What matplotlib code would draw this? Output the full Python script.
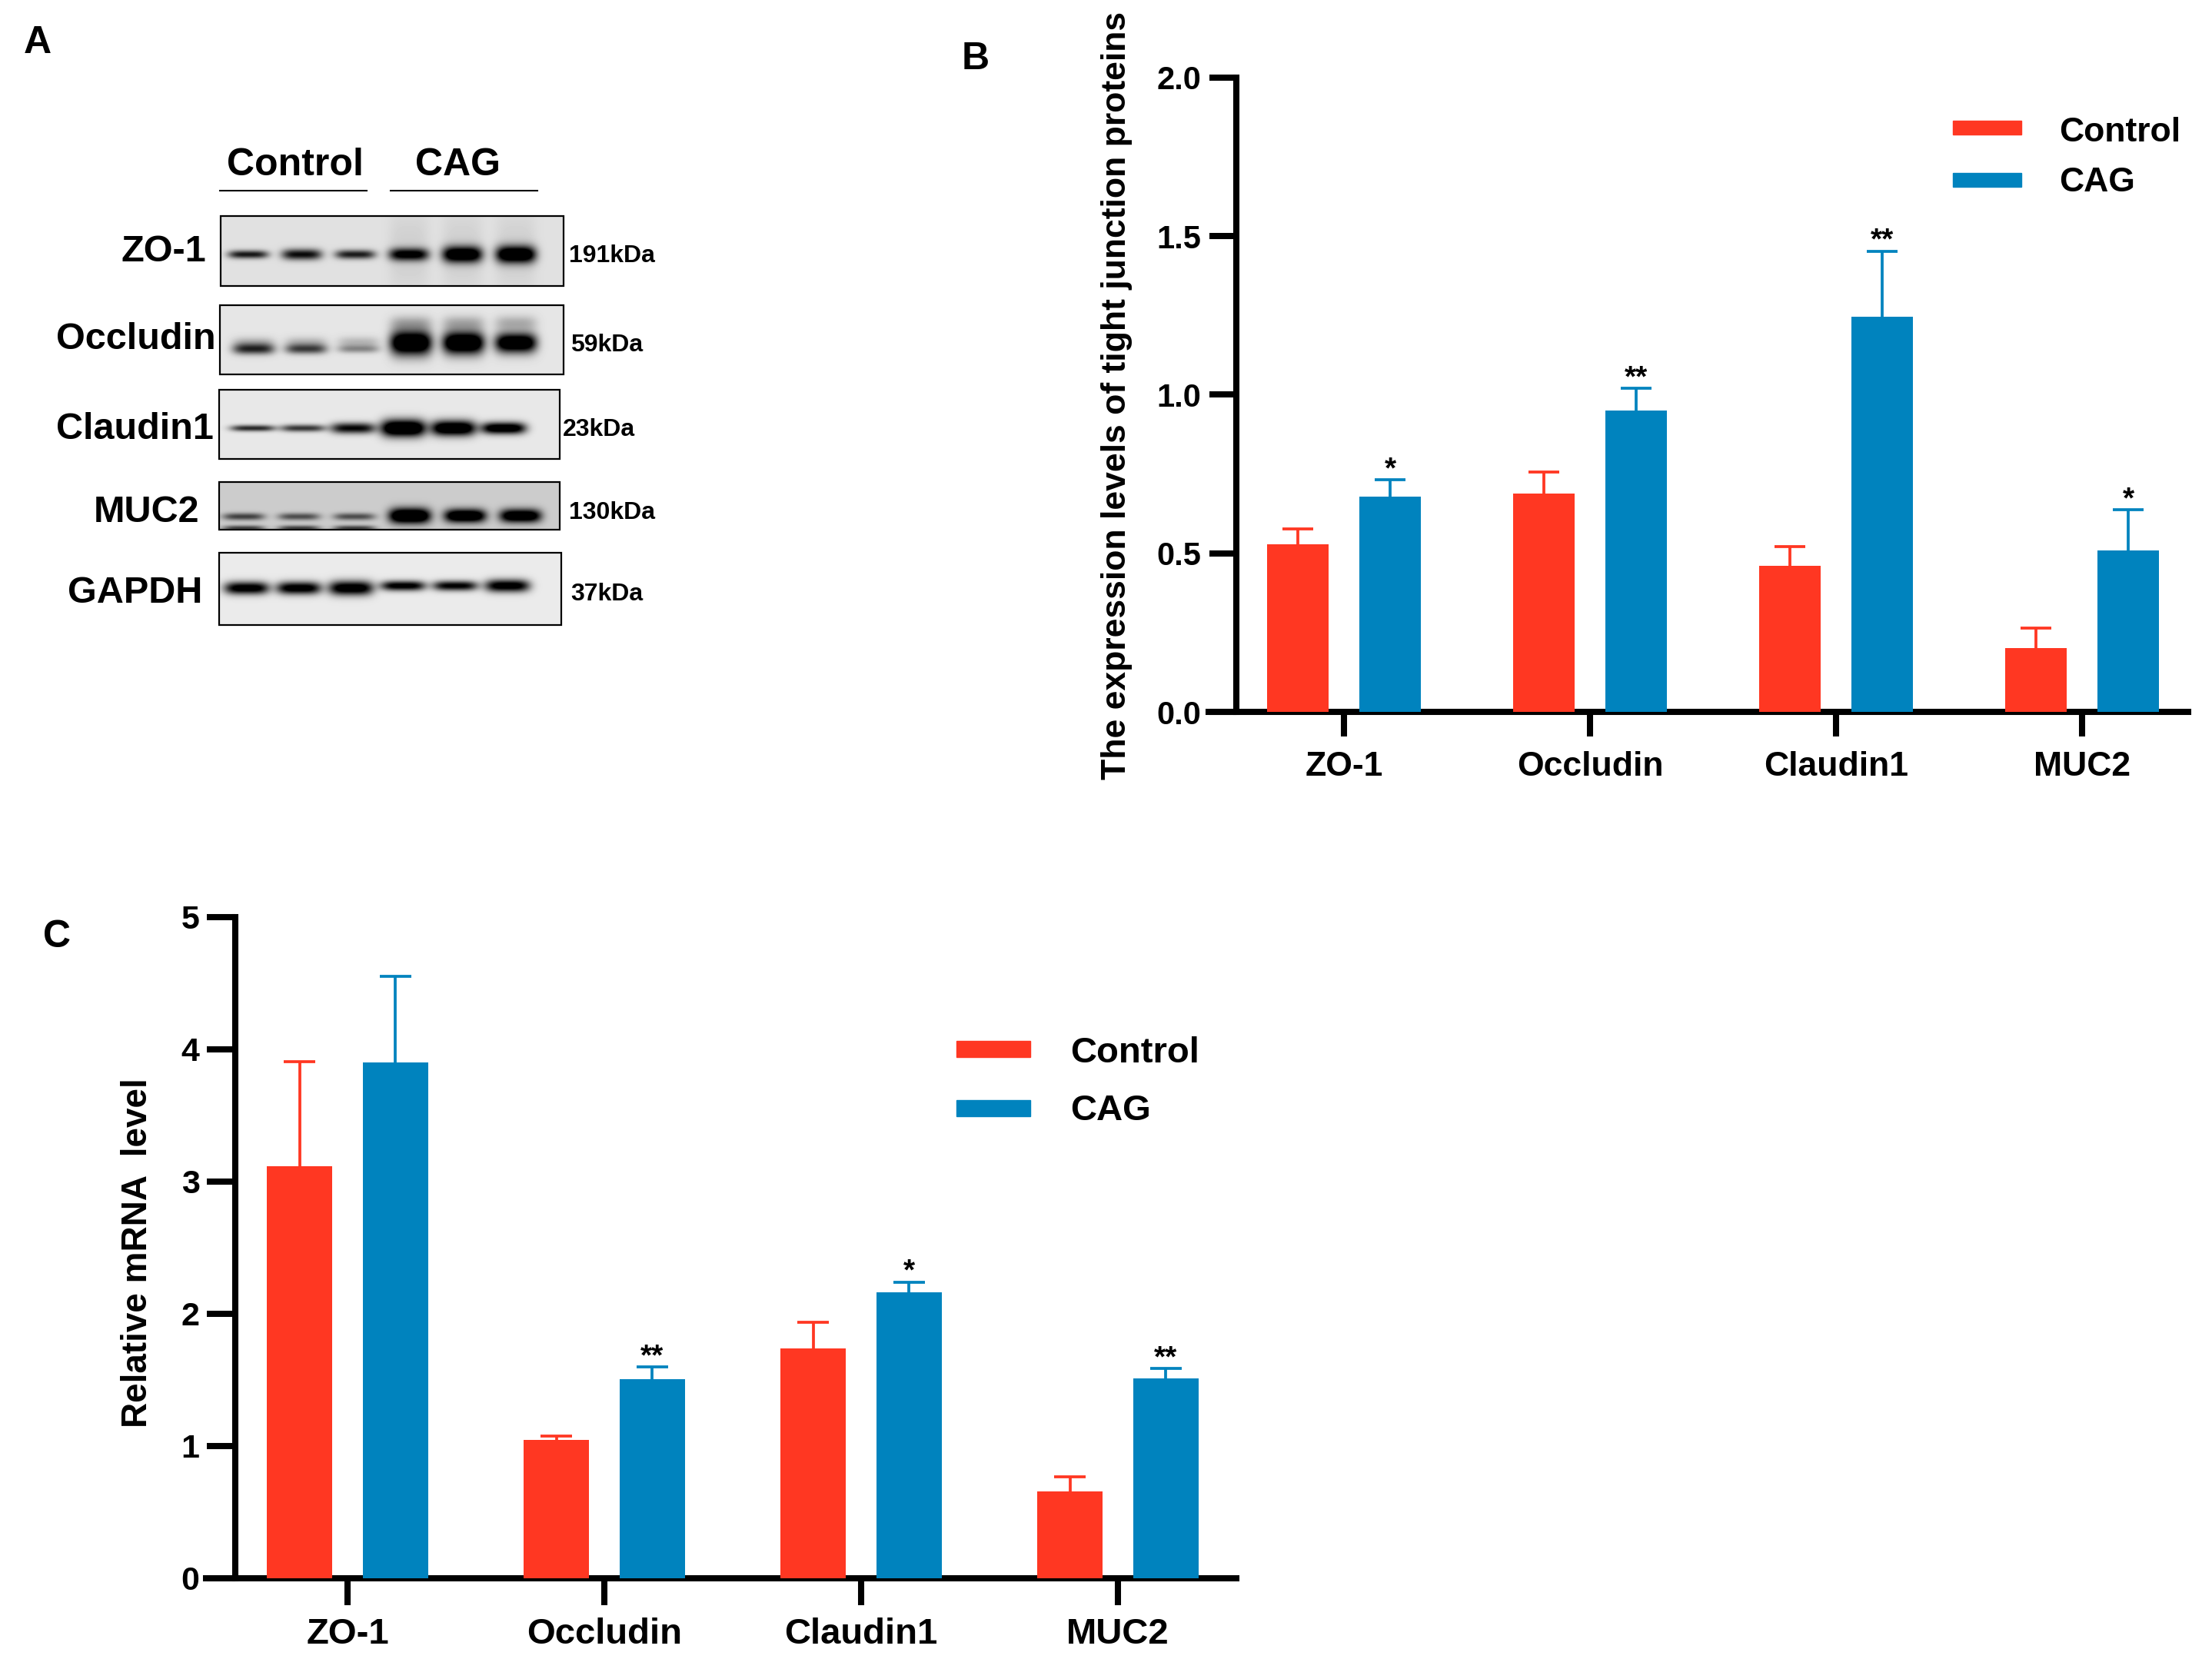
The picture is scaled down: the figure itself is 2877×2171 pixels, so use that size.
import numpy as np
import matplotlib
matplotlib.use("Agg")
import matplotlib.pyplot as plt
from matplotlib.patches import Rectangle

plt.rcParams['font.family'] = ['Liberation Sans', 'DejaVu Sans']
plt.rcParams['font.weight'] = 'bold'

W, H, DPI = 2877, 2171, 100
RED = '#FF3722'
BLUE = '#0083BE'

# ---------------- data ----------------
categories = ['ZO-1', 'Occludin', 'Claudin1', 'MUC2']
groups = ['Control', 'CAG']

# Panel B: protein expression levels
b_control = [0.528, 0.689, 0.461, 0.202]
b_control_err = [0.048, 0.067, 0.059, 0.062]
b_cag = [0.678, 0.951, 1.245, 0.509]
b_cag_err = [0.054, 0.070, 0.208, 0.129]
b_cag_sig = ['*', '**', '**', '*']
b_yticks = [0.0, 0.5, 1.0, 1.5, 2.0]
b_yticklabels = ['0.0', '0.5', '1.0', '1.5', '2.0']
b_ylabel = 'The expression levels of tight junction proteins'

# Panel C: relative mRNA level
c_control = [3.119, 1.045, 1.741, 0.655]
c_control_err = [0.787, 0.030, 0.197, 0.110]
c_cag = [3.899, 1.506, 2.165, 1.510]
c_cag_err = [0.654, 0.091, 0.076, 0.076]
c_cag_sig = ['', '**', '*', '**']
c_yticks = [0, 1, 2, 3, 4, 5]
c_yticklabels = ['0', '1', '2', '3', '4', '5']
c_ylabel = 'Relative mRNA  level'

# Panel A: western blot (relative band darkness / thickness per lane)
blot_rows = ['ZO-1', 'Occludin', 'Claudin1', 'MUC2', 'GAPDH']
blot_kda = ['191kDa', '59kDa', '23kDa', '130kDa', '37kDa']
blot_darkness = [
    [0.80, 0.85, 0.78, 0.95, 1.15, 1.20],
    [0.75, 0.65, 0.35, 1.35, 1.35, 1.25],
    [0.75, 0.70, 0.90, 1.35, 1.25, 1.15],
    [0.55, 0.50, 0.50, 1.25, 1.15, 1.10],
    [1.05, 1.05, 1.10, 1.00, 0.95, 1.05],
]
blot_thickness = [
    [9, 12, 10, 14, 18, 19],
    [12, 11, 9, 27, 25, 22],
    [7, 8, 12, 19, 17, 13],
    [8, 8, 8, 17, 15, 15],
    [14, 14, 16, 11, 11, 14],
]

# ---------------- figure ----------------
fig = plt.figure(figsize=(W / DPI, H / DPI), dpi=DPI)
fig.patch.set_facecolor('white')


def fx(x):
    return x / W


def fy(y):
    return 1 - y / H


def ftext(x, y, s, **kw):
    return fig.text(fx(x), fy(y), s, **kw)


# ---------- Panel A (blot) on a pixel-space overlay axes ----------
ax0 = fig.add_axes([0, 0, 1, 1])
ax0.set_xlim(0, W)
ax0.set_ylim(H, 0)
ax0.axis('off')

boxes = [(287, 733, 281, 372), (286, 733, 397, 487), (285, 728, 507, 597),
         (285, 728, 627, 689), (285, 730, 719, 813)]
lane_start = [323, 330, 329, 317, 321]
lane_step = [69.6, 68.2, 65.2, 72.0, 67.8]
band_y_ctrl = [331, 454, 557, 672, 765]
band_y_cag = [331, 446, 557, 671, 762]
band_hw = [26, 27, 29, 27, 29]
bg_level = [0.88, 0.90, 0.91, 0.80, 0.92]


def blot_image(box, bg, bands):
    x0, x1, y0, y1 = box
    xs = np.arange(x0, x1) + 0.5
    ys = np.arange(y0, y1) + 0.5
    X, Y = np.meshgrid(xs, ys)
    img = np.full(X.shape, bg, dtype=float)
    for xc, yc, hw, th, d in bands:
        prof = np.exp(-(np.abs(X - xc) / hw) ** 4) * np.exp(-0.5 * ((Y - yc) / (th / 2.4)) ** 2)
        img -= d * prof
    return np.clip(img, 0, 1)


for r, name in enumerate(blot_rows):
    box = boxes[r]
    bands = []
    for k in range(6):
        xc = lane_start[r] + k * lane_step[r]
        yc = band_y_ctrl[r] if k < 3 else band_y_cag[r]
        bands.append((xc, yc, band_hw[r], blot_thickness[r][k], blot_darkness[r][k]))
        if name == 'ZO-1' and k >= 3:
            bands.append((xc, (box[2] + box[3]) / 2, band_hw[r], 90, 0.07))
        if name == 'Occludin':
            if k >= 3:
                bands.append((xc, 420, band_hw[r], 16, 0.22))
            else:
                bands.append((xc, yc - 9, band_hw[r], 12, 0.18))
        if name == 'MUC2' and k < 3:
            bands.append((xc, 687, band_hw[r], 6, 0.55))
    img = blot_image(box, bg_level[r], bands)
    ax0.imshow(img, cmap='gray', vmin=0, vmax=1, interpolation='bilinear',
               extent=(box[0], box[1], box[3], box[2]), aspect='auto', zorder=1)
    ax0.add_patch(Rectangle((box[0], box[2]), box[1] - box[0], box[3] - box[2],
                            fill=False, edgecolor='black', linewidth=1.6, zorder=2))

ax0.set_xlim(0, W)
ax0.set_ylim(H, 0)

# row labels and kDa labels
row_label_right = [268, 281, 278, 259, 263]
row_label_base = [340, 454, 571, 679, 784]
kda_left = [740, 742, 732, 740, 742]
kda_base = [341, 457, 567, 675, 781]
for r, name in enumerate(blot_rows):
    ftext(row_label_right[r], row_label_base[r], name, ha='right', va='baseline',
          fontsize=35, fontweight='bold')
    ftext(kda_left[r], kda_base[r], blot_kda[r], ha='left', va='baseline',
          fontsize=23, fontweight='bold')

# group headers
ftext(384, 228, groups[0], ha='center', va='baseline', fontsize=36, fontweight='bold')
ftext(595, 228, groups[1], ha='center', va='baseline', fontsize=36, fontweight='bold')
ax0.plot([286, 477], [248, 248], color='black', lw=1.5)
ax0.plot([508, 699], [248, 248], color='black', lw=1.5)

# panel letters
ftext(31, 69, 'A', ha='left', va='baseline', fontsize=36, fontweight='bold')
ftext(1251, 90, 'B', ha='left', va='baseline', fontsize=36, fontweight='bold')
ftext(56, 1232, 'C', ha='left', va='baseline', fontsize=36, fontweight='bold')

SPINE_LW = 5.8


def bar_panel(ax, ctrl, ctrl_err, cag, cag_err, sig, yticks, yticklabels, ylim,
              xlim, yspine_x, width, off, cap_hw, ylen, xlen, ytick_fs, xtick_fs,
              ypad, xpad, star_fs):
    x = np.arange(len(categories))
    ax.set_facecolor('none')
    ax.bar(x - off, ctrl, width, color=RED, edgecolor='none', zorder=3)
    ax.bar(x + off, cag, width, color=BLUE, edgecolor='none', zorder=3)
    for xs, vals, errs, col in [(x - off, ctrl, ctrl_err, RED), (x + off, cag, cag_err, BLUE)]:
        tops = np.array(vals) + np.array(errs)
        ax.vlines(xs, vals, tops, colors=col, linewidth=2.7, zorder=2)
        ax.hlines(tops, xs - cap_hw, xs + cap_hw, colors=col, linewidth=2.7, zorder=2)
    for i, s in enumerate(sig):
        if s:
            ax.annotate(s, (x[i] + off, cag[i] + cag_err[i]), xytext=(0, 2),
                        textcoords='offset points', ha='center', va='baseline',
                        fontsize=star_fs, fontweight='bold', zorder=4)
    ax.set_xlim(*xlim)
    ax.set_ylim(*ylim)
    for side in ['top', 'right']:
        ax.spines[side].set_visible(False)
    ax.spines['left'].set_position(('data', yspine_x))
    ax.spines['left'].set_bounds(ylim[0], ylim[1])
    ax.spines['left'].set_linewidth(SPINE_LW)
    ax.spines['bottom'].set_linewidth(SPINE_LW)
    ax.spines['left'].set_capstyle('projecting')
    ax.set_yticks(yticks)
    ax.set_yticklabels(yticklabels)
    ax.set_xticks(x)
    ax.set_xticklabels(categories)
    ax.tick_params(axis='y', direction='out', length=ylen, width=SPINE_LW,
                   labelsize=ytick_fs, pad=ypad)
    ax.tick_params(axis='x', direction='out', length=xlen, width=SPINE_LW,
                   labelsize=xtick_fs, pad=xpad)
    for lab in ax.get_xticklabels() + ax.get_yticklabels():
        lab.set_fontweight('bold')


# ---------- Panel B ----------
bx_left, bx_unit, bx_center0 = 1572, 320.0, 1748
b_xlim = ((bx_left - bx_center0) / bx_unit, 3.43)
b_right = bx_center0 + b_xlim[1] * bx_unit
axB = fig.add_axes([fx(bx_left), fy(926), (b_right - bx_left) / W, (926 - 101) / H])
bar_panel(axB, b_control, b_control_err, b_cag, b_cag_err, b_cag_sig,
          b_yticks, b_yticklabels, (0, 2.0), b_xlim, -0.439, 0.25, 0.1875, 0.061,
          25.5, 23, 30, 32, 7, 14, 28)
ftext(1452, 514, b_ylabel, rotation=90, ha='center', va='center', fontsize=32,
      fontweight='bold')

# legend B
for i, (g, col) in enumerate(zip(groups, [RED, BLUE])):
    yc = [166, 234][i]
    fig.add_artist(Rectangle((fx(2540), fy(yc + 9)), 89 / W, 18 / H, color=col,
                             transform=fig.transFigure))
    ftext(2678, [184, 249][i], g, ha='left', va='baseline', fontsize=32, fontweight='bold')

# ---------- Panel C ----------
cx_left, cx_unit, cx_center0 = 268, 334.0, 452
c_xlim = ((cx_left - cx_center0) / cx_unit, (1608 - cx_center0) / cx_unit)
axC = fig.add_axes([fx(cx_left), fy(2053), (1608 - cx_left) / W, (2053 - 1193) / H])
bar_panel(axC, c_control, c_control_err, c_cag, c_cag_err, c_cag_sig,
          c_yticks, c_yticklabels, (0, 5), c_xlim, -0.437, 0.257, 0.187, 0.062,
          27, 25, 31, 34, 6.5, 12, 28)
ftext(179, 1630, c_ylabel, rotation=90, ha='center', va='center', fontsize=33,
      fontweight='bold')

# legend C
for i, (g, col) in enumerate(zip(groups, [RED, BLUE])):
    yc = [1364, 1441][i]
    fig.add_artist(Rectangle((fx(1244), fy(yc + 10.5)), 96 / W, 21 / H, color=col,
                             transform=fig.transFigure))
    ftext(1392, [1382, 1457][i], g, ha='left', va='baseline', fontsize=34, fontweight='bold')

fig.savefig('out.png', dpi=DPI, facecolor='white')
